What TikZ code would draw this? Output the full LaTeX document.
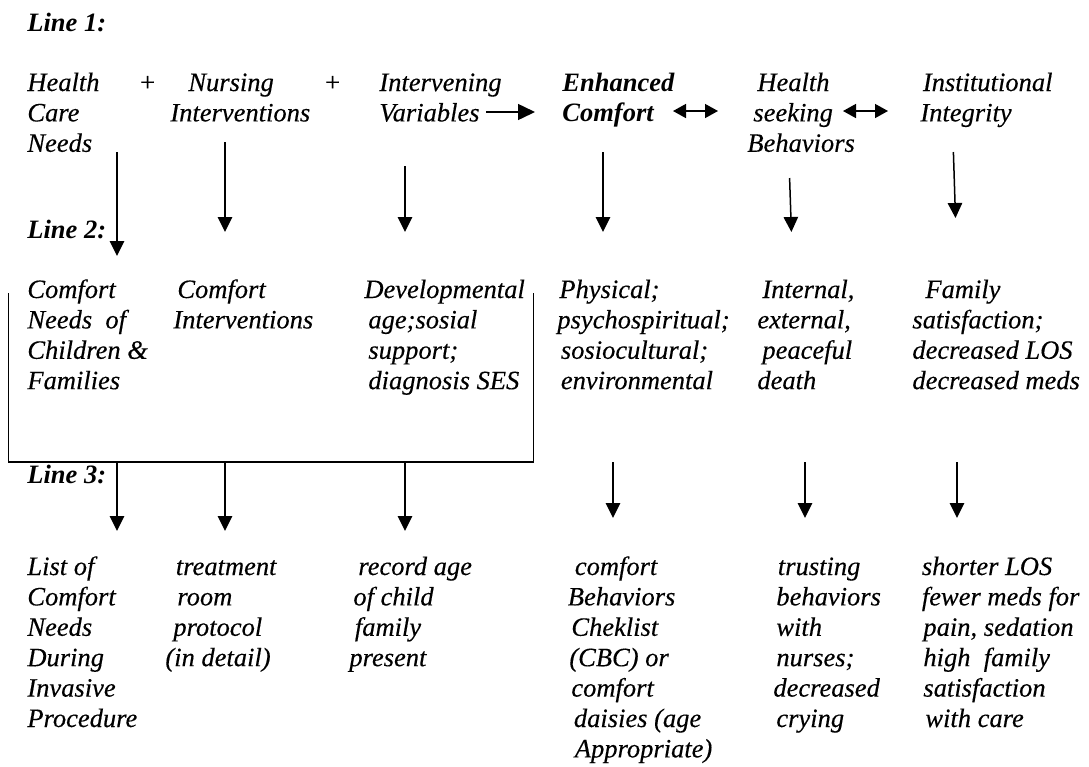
\documentclass[tikz,border=0pt]{standalone}
\usepackage{fontspec}
\setmainfont{Liberation Serif}[ItalicFont={Liberation Serif Italic}, BoldItalicFont={Liberation Serif Bold Italic}, ItalicFeatures={FakeBold=0.3}]
\usetikzlibrary{arrows.meta}
\newcommand\blk[1]{\vtop{\halign{##\hfil\cr#1\crcr}}}
\begin{document}
\begin{tikzpicture}[x=0.5pt,y=-0.5pt,
  txt/.style={font=\fontsize{13.25}{15.2}\selectfont\itshape, inner sep=0pt, anchor=base west},
  btxt/.style={txt, font=\fontsize{13.25}{15.2}\selectfont\bfseries\itshape},
  arr/.style={line width=0.75pt, -{Triangle[width=7.2pt,length=7.5pt]}},
  harr/.style={line width=0.75pt, -{Triangle[width=8pt,length=8.5pt]}},
  darr/.style={line width=0.75pt, {Triangle[width=7pt,length=6.5pt]}-{Triangle[width=7pt,length=6.5pt]}},
  brk/.style={line width=0.75pt}]
\fill[white] (0,0) rectangle (1089,767);
\useasboundingbox (0,0) rectangle (1089,767);

% line labels
\node[btxt] (l1) at (27,31) {Line 1:};
\node[btxt] (l2) at (27,238) {Line 2:};
\node[btxt] (l3) at (27,483) {Line 3:};

% row 1
\node[txt] (hcn) at (27,91) {\blk{Health\cr Care\cr Needs}};
\node[txt] (p1) at (138,91) {+};
\node[txt] (ni) at (170,91) {\blk{\hspace*{9pt}Nursing\cr Interventions}};
\node[txt] (p2) at (323,91) {+};
\node[txt] (iv) at (379,91) {\blk{Intervening\cr Variables}};
\node[btxt] (ec) at (562,91) {\blk{Enhanced\cr Comfort}};
\node[txt] (hsb) at (747,91) {\blk{\hspace*{5pt}Health\cr\hspace*{3pt}seeking\cr Behaviors}};
\node[txt] (ii) at (920,91) {\blk{\hspace*{1.25pt}Institutional\cr Integrity}};

% row 2
\node[txt] (r2a) at (27,298) {\blk{Comfort\cr Needs\ \ of\cr Children \&\cr Families}};
\node[txt] (r2b) at (173,298) {\blk{\hspace*{2pt}Comfort\cr Interventions}};
\node[txt] (r2c) at (364,298) {\blk{Developmental\cr\hspace*{2pt}age;sosial\cr\hspace*{2pt}support;\cr\hspace*{2pt}diagnosis SES}};
\node[txt] (r2d) at (557,298) {\blk{\hspace*{1pt}Physical;\cr psychospiritual;\cr\hspace*{1.75pt}sosiocultural;\cr\hspace*{1.75pt}environmental}};
\node[txt] (r2e) at (757,298) {\blk{\hspace*{2.5pt}Internal,\cr external,\cr\hspace*{2.5pt}peaceful\cr death}};
\node[txt] (r2f) at (912,298) {\blk{\hspace*{6.5pt}Family\cr satisfaction;\cr decreased LOS\cr decreased meds}};

% row 3
\node[txt] (r3a) at (27,575) {\blk{List of\cr Comfort\cr Needs\cr During\cr Invasive\cr Procedure}};
\node[txt] (r3b) at (165,575) {\blk{\hspace*{5.25pt}treatment\cr\hspace*{6pt}room\cr\hspace*{4pt}protocol\cr(in detail)}};
\node[txt] (r3c) at (349,575) {\blk{\hspace*{4.5pt}record age\cr\hspace*{2pt}of child\cr\hspace*{2.75pt}family\cr present}};
\node[txt] (r3d) at (567.5,575) {\blk{\hspace*{3.5pt}comfort\cr Behaviors\cr\hspace*{1.75pt}Cheklist\cr\hspace*{0.75pt}(CBC) or\cr\hspace*{1.75pt}comfort\cr\hspace*{3pt}daisies (age\cr\hspace*{3.5pt}Appropriate)}};
\node[txt] (r3e) at (773,575) {\blk{\hspace*{2.25pt}trusting\cr\hspace*{1.5pt}behaviors\cr\hspace*{1.5pt}with\cr\hspace*{1.5pt}nurses;\cr decreased\cr\hspace*{1.5pt}crying}};
\node[txt] (r3f) at (921.5,575) {\blk{shorter LOS\cr fewer meds for\cr\hspace*{0.75pt}pain, sedation\cr\hspace*{0.75pt}high\ \ family\cr\hspace*{0.75pt}satisfaction\cr\hspace*{1.75pt}with care}};

% connector end points
\coordinate (h1s) at (486,112);   \coordinate (h1e) at (535,112);
\coordinate (d1s) at (673,111);   \coordinate (d1e) at (718,111);
\coordinate (d2s) at (843,111);   \coordinate (d2e) at (888,111);
\coordinate (a1s) at (117,152);   \coordinate (a1e) at (117,256);
\coordinate (a2s) at (225,142);   \coordinate (a2e) at (225,232);
\coordinate (a3s) at (405,166);   \coordinate (a3e) at (405,232);
\coordinate (a4s) at (603,152);   \coordinate (a4e) at (603,232);
\coordinate (a5s) at (789.6,178); \coordinate (a5e) at (791.4,232);
\coordinate (a6s) at (953.4,152); \coordinate (a6e) at (955.5,218);
\coordinate (bl1) at (8.7,293);   \coordinate (bl2) at (8.7,462);
\coordinate (br2) at (533.5,462); \coordinate (br1) at (533.5,293);
\coordinate (b1s) at (117,462);   \coordinate (b1e) at (117,531);
\coordinate (b2s) at (225,462);   \coordinate (b2e) at (225,531);
\coordinate (b3s) at (405,462);   \coordinate (b3e) at (405,531);
\coordinate (c1s) at (613,462);   \coordinate (c1e) at (613,518);
\coordinate (c2s) at (805,462);   \coordinate (c2e) at (805,518);
\coordinate (c3s) at (957,462);   \coordinate (c3e) at (957,518);

% connectors row 1
\draw[harr] (h1s) -- (h1e);
\draw[darr] (d1s) -- (d1e);
\draw[darr] (d2s) -- (d2e);
\draw[arr] (a1s) -- (a1e);
\draw[arr] (a2s) -- (a2e);
\draw[arr] (a3s) -- (a3e);
\draw[arr] (a4s) -- (a4e);
\draw[arr] (a5s) -- (a5e);
\draw[arr] (a6s) -- (a6e);

% bracket and connectors row 2
\draw[brk] (bl1) -- (bl2) -- (br2) -- (br1);
\draw[arr] (b1s) -- (b1e);
\draw[arr] (b2s) -- (b2e);
\draw[arr] (b3s) -- (b3e);
\draw[arr] (c1s) -- (c1e);
\draw[arr] (c2s) -- (c2e);
\draw[arr] (c3s) -- (c3e);
\end{tikzpicture}
\end{document}
